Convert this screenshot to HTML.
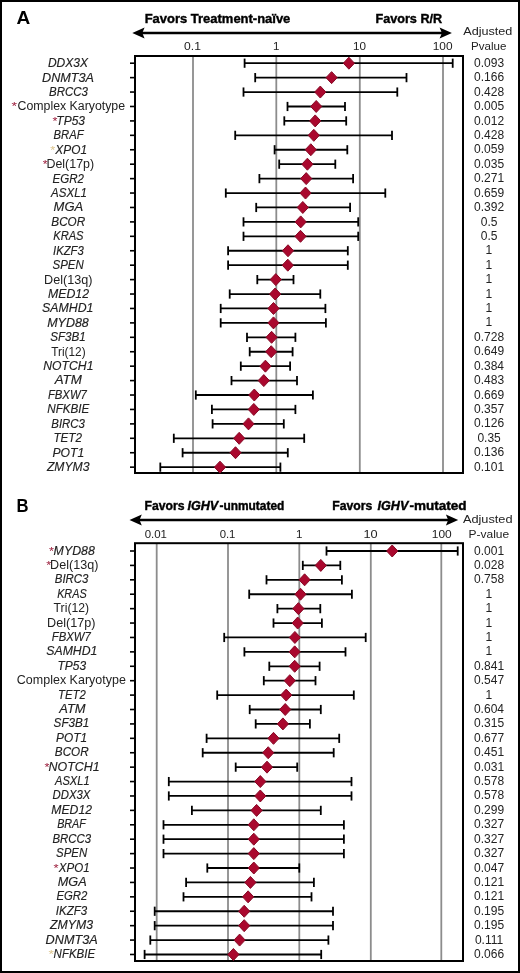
<!DOCTYPE html>
<html><head><meta charset="utf-8"><style>
html,body{margin:0;padding:0;background:#fff;}
svg{display:block;font-family:"Liberation Sans",sans-serif;will-change:transform;}
</style></head><body>
<svg width="520" height="973" viewBox="0 0 520 973">
<rect x="0" y="0" width="520" height="973" fill="#fff"/>
<rect x="1" y="1" width="518" height="971" fill="none" stroke="#000" stroke-width="2"/>
<line x1="193" y1="56" x2="193" y2="473" stroke="#8c8c8c" stroke-width="1.8"/>
<line x1="276.3" y1="56" x2="276.3" y2="473" stroke="#8c8c8c" stroke-width="1.8"/>
<line x1="359.8" y1="56" x2="359.8" y2="473" stroke="#8c8c8c" stroke-width="1.8"/>
<line x1="443" y1="56" x2="443" y2="473" stroke="#8c8c8c" stroke-width="1.8"/>
<rect x="135" y="56" width="328" height="417" fill="none" stroke="#000" stroke-width="2"/>
<line x1="130" y1="63.2" x2="135" y2="63.2" stroke="#000" stroke-width="1.6"/>
<line x1="244.6" y1="63.2" x2="452.7" y2="63.2" stroke="#000" stroke-width="1.8"/>
<line x1="244.6" y1="58.6" x2="244.6" y2="67.8" stroke="#000" stroke-width="1.8"/>
<line x1="452.7" y1="58.6" x2="452.7" y2="67.8" stroke="#000" stroke-width="1.8"/>
<path d="M343.3 63.2L348.9 57.2L354.5 63.2L348.9 69.2Z" fill="#aa082e" stroke="#860a26" stroke-width="1"/>
<line x1="130" y1="77.63" x2="135" y2="77.63" stroke="#000" stroke-width="1.6"/>
<line x1="255.2" y1="77.63" x2="406.5" y2="77.63" stroke="#000" stroke-width="1.8"/>
<line x1="255.2" y1="73.03" x2="255.2" y2="82.23" stroke="#000" stroke-width="1.8"/>
<line x1="406.5" y1="73.03" x2="406.5" y2="82.23" stroke="#000" stroke-width="1.8"/>
<path d="M326 77.63L331.6 71.63L337.2 77.63L331.6 83.63Z" fill="#aa082e" stroke="#860a26" stroke-width="1"/>
<line x1="130" y1="92.05" x2="135" y2="92.05" stroke="#000" stroke-width="1.6"/>
<line x1="243.5" y1="92.05" x2="397.3" y2="92.05" stroke="#000" stroke-width="1.8"/>
<line x1="243.5" y1="87.45" x2="243.5" y2="96.65" stroke="#000" stroke-width="1.8"/>
<line x1="397.3" y1="87.45" x2="397.3" y2="96.65" stroke="#000" stroke-width="1.8"/>
<path d="M314.7 92.05L320.3 86.05L325.9 92.05L320.3 98.05Z" fill="#aa082e" stroke="#860a26" stroke-width="1"/>
<line x1="130" y1="106.48" x2="135" y2="106.48" stroke="#000" stroke-width="1.6"/>
<line x1="287.5" y1="106.48" x2="345" y2="106.48" stroke="#000" stroke-width="1.8"/>
<line x1="287.5" y1="101.88" x2="287.5" y2="111.08" stroke="#000" stroke-width="1.8"/>
<line x1="345" y1="101.88" x2="345" y2="111.08" stroke="#000" stroke-width="1.8"/>
<path d="M310.6 106.48L316.2 100.48L321.8 106.48L316.2 112.48Z" fill="#aa082e" stroke="#860a26" stroke-width="1"/>
<line x1="130" y1="120.91" x2="135" y2="120.91" stroke="#000" stroke-width="1.6"/>
<line x1="284.3" y1="120.91" x2="346.2" y2="120.91" stroke="#000" stroke-width="1.8"/>
<line x1="284.3" y1="116.31" x2="284.3" y2="125.51" stroke="#000" stroke-width="1.8"/>
<line x1="346.2" y1="116.31" x2="346.2" y2="125.51" stroke="#000" stroke-width="1.8"/>
<path d="M309.6 120.91L315.2 114.91L320.8 120.91L315.2 126.91Z" fill="#aa082e" stroke="#860a26" stroke-width="1"/>
<line x1="130" y1="135.33" x2="135" y2="135.33" stroke="#000" stroke-width="1.6"/>
<line x1="235.2" y1="135.33" x2="392" y2="135.33" stroke="#000" stroke-width="1.8"/>
<line x1="235.2" y1="130.73" x2="235.2" y2="139.93" stroke="#000" stroke-width="1.8"/>
<line x1="392" y1="130.73" x2="392" y2="139.93" stroke="#000" stroke-width="1.8"/>
<path d="M308.2 135.33L313.8 129.33L319.4 135.33L313.8 141.33Z" fill="#aa082e" stroke="#860a26" stroke-width="1"/>
<line x1="130" y1="149.76" x2="135" y2="149.76" stroke="#000" stroke-width="1.6"/>
<line x1="274.6" y1="149.76" x2="347.3" y2="149.76" stroke="#000" stroke-width="1.8"/>
<line x1="274.6" y1="145.16" x2="274.6" y2="154.36" stroke="#000" stroke-width="1.8"/>
<line x1="347.3" y1="145.16" x2="347.3" y2="154.36" stroke="#000" stroke-width="1.8"/>
<path d="M305.2 149.76L310.8 143.76L316.4 149.76L310.8 155.76Z" fill="#aa082e" stroke="#860a26" stroke-width="1"/>
<line x1="130" y1="164.19" x2="135" y2="164.19" stroke="#000" stroke-width="1.6"/>
<line x1="279.2" y1="164.19" x2="335.3" y2="164.19" stroke="#000" stroke-width="1.8"/>
<line x1="279.2" y1="159.59" x2="279.2" y2="168.79" stroke="#000" stroke-width="1.8"/>
<line x1="335.3" y1="159.59" x2="335.3" y2="168.79" stroke="#000" stroke-width="1.8"/>
<path d="M301.8 164.19L307.4 158.19L313 164.19L307.4 170.19Z" fill="#aa082e" stroke="#860a26" stroke-width="1"/>
<line x1="130" y1="178.62" x2="135" y2="178.62" stroke="#000" stroke-width="1.6"/>
<line x1="259.4" y1="178.62" x2="353.1" y2="178.62" stroke="#000" stroke-width="1.8"/>
<line x1="259.4" y1="174.02" x2="259.4" y2="183.22" stroke="#000" stroke-width="1.8"/>
<line x1="353.1" y1="174.02" x2="353.1" y2="183.22" stroke="#000" stroke-width="1.8"/>
<path d="M300.6 178.62L306.2 172.62L311.8 178.62L306.2 184.62Z" fill="#aa082e" stroke="#860a26" stroke-width="1"/>
<line x1="130" y1="193.04" x2="135" y2="193.04" stroke="#000" stroke-width="1.6"/>
<line x1="225.8" y1="193.04" x2="385.3" y2="193.04" stroke="#000" stroke-width="1.8"/>
<line x1="225.8" y1="188.44" x2="225.8" y2="197.64" stroke="#000" stroke-width="1.8"/>
<line x1="385.3" y1="188.44" x2="385.3" y2="197.64" stroke="#000" stroke-width="1.8"/>
<path d="M299.9 193.04L305.5 187.04L311.1 193.04L305.5 199.04Z" fill="#aa082e" stroke="#860a26" stroke-width="1"/>
<line x1="130" y1="207.47" x2="135" y2="207.47" stroke="#000" stroke-width="1.6"/>
<line x1="256.2" y1="207.47" x2="350.1" y2="207.47" stroke="#000" stroke-width="1.8"/>
<line x1="256.2" y1="202.87" x2="256.2" y2="212.07" stroke="#000" stroke-width="1.8"/>
<line x1="350.1" y1="202.87" x2="350.1" y2="212.07" stroke="#000" stroke-width="1.8"/>
<path d="M297.2 207.47L302.8 201.47L308.4 207.47L302.8 213.47Z" fill="#aa082e" stroke="#860a26" stroke-width="1"/>
<line x1="130" y1="221.9" x2="135" y2="221.9" stroke="#000" stroke-width="1.6"/>
<line x1="243.5" y1="221.9" x2="358.2" y2="221.9" stroke="#000" stroke-width="1.8"/>
<line x1="243.5" y1="217.3" x2="243.5" y2="226.5" stroke="#000" stroke-width="1.8"/>
<line x1="358.2" y1="217.3" x2="358.2" y2="226.5" stroke="#000" stroke-width="1.8"/>
<path d="M295.1 221.9L300.7 215.9L306.3 221.9L300.7 227.9Z" fill="#aa082e" stroke="#860a26" stroke-width="1"/>
<line x1="130" y1="236.32" x2="135" y2="236.32" stroke="#000" stroke-width="1.6"/>
<line x1="243.5" y1="236.32" x2="358.2" y2="236.32" stroke="#000" stroke-width="1.8"/>
<line x1="243.5" y1="231.72" x2="243.5" y2="240.92" stroke="#000" stroke-width="1.8"/>
<line x1="358.2" y1="231.72" x2="358.2" y2="240.92" stroke="#000" stroke-width="1.8"/>
<path d="M294.9 236.32L300.5 230.32L306.1 236.32L300.5 242.32Z" fill="#aa082e" stroke="#860a26" stroke-width="1"/>
<line x1="130" y1="250.75" x2="135" y2="250.75" stroke="#000" stroke-width="1.6"/>
<line x1="228.1" y1="250.75" x2="347.8" y2="250.75" stroke="#000" stroke-width="1.8"/>
<line x1="228.1" y1="246.15" x2="228.1" y2="255.35" stroke="#000" stroke-width="1.8"/>
<line x1="347.8" y1="246.15" x2="347.8" y2="255.35" stroke="#000" stroke-width="1.8"/>
<path d="M282.4 250.75L288 244.75L293.6 250.75L288 256.75Z" fill="#aa082e" stroke="#860a26" stroke-width="1"/>
<line x1="130" y1="265.18" x2="135" y2="265.18" stroke="#000" stroke-width="1.6"/>
<line x1="228.1" y1="265.18" x2="347.8" y2="265.18" stroke="#000" stroke-width="1.8"/>
<line x1="228.1" y1="260.58" x2="228.1" y2="269.78" stroke="#000" stroke-width="1.8"/>
<line x1="347.8" y1="260.58" x2="347.8" y2="269.78" stroke="#000" stroke-width="1.8"/>
<path d="M282.2 265.18L287.8 259.18L293.4 265.18L287.8 271.18Z" fill="#aa082e" stroke="#860a26" stroke-width="1"/>
<line x1="130" y1="279.61" x2="135" y2="279.61" stroke="#000" stroke-width="1.6"/>
<line x1="257.3" y1="279.61" x2="293.5" y2="279.61" stroke="#000" stroke-width="1.8"/>
<line x1="257.3" y1="275" x2="257.3" y2="284.21" stroke="#000" stroke-width="1.8"/>
<line x1="293.5" y1="275" x2="293.5" y2="284.21" stroke="#000" stroke-width="1.8"/>
<path d="M270.2 279.61L275.8 273.61L281.4 279.61L275.8 285.61Z" fill="#aa082e" stroke="#860a26" stroke-width="1"/>
<line x1="130" y1="294.03" x2="135" y2="294.03" stroke="#000" stroke-width="1.6"/>
<line x1="229.7" y1="294.03" x2="320.3" y2="294.03" stroke="#000" stroke-width="1.8"/>
<line x1="229.7" y1="289.43" x2="229.7" y2="298.63" stroke="#000" stroke-width="1.8"/>
<line x1="320.3" y1="289.43" x2="320.3" y2="298.63" stroke="#000" stroke-width="1.8"/>
<path d="M269.5 294.03L275.1 288.03L280.7 294.03L275.1 300.03Z" fill="#aa082e" stroke="#860a26" stroke-width="1"/>
<line x1="130" y1="308.46" x2="135" y2="308.46" stroke="#000" stroke-width="1.6"/>
<line x1="220.7" y1="308.46" x2="325.4" y2="308.46" stroke="#000" stroke-width="1.8"/>
<line x1="220.7" y1="303.86" x2="220.7" y2="313.06" stroke="#000" stroke-width="1.8"/>
<line x1="325.4" y1="303.86" x2="325.4" y2="313.06" stroke="#000" stroke-width="1.8"/>
<path d="M267.9 308.46L273.5 302.46L279.1 308.46L273.5 314.46Z" fill="#aa082e" stroke="#860a26" stroke-width="1"/>
<line x1="130" y1="322.89" x2="135" y2="322.89" stroke="#000" stroke-width="1.6"/>
<line x1="220.7" y1="322.89" x2="325.9" y2="322.89" stroke="#000" stroke-width="1.8"/>
<line x1="220.7" y1="318.29" x2="220.7" y2="327.49" stroke="#000" stroke-width="1.8"/>
<line x1="325.9" y1="318.29" x2="325.9" y2="327.49" stroke="#000" stroke-width="1.8"/>
<path d="M267.9 322.89L273.5 316.89L279.1 322.89L273.5 328.89Z" fill="#aa082e" stroke="#860a26" stroke-width="1"/>
<line x1="130" y1="337.31" x2="135" y2="337.31" stroke="#000" stroke-width="1.6"/>
<line x1="247" y1="337.31" x2="295.4" y2="337.31" stroke="#000" stroke-width="1.8"/>
<line x1="247" y1="332.71" x2="247" y2="341.91" stroke="#000" stroke-width="1.8"/>
<line x1="295.4" y1="332.71" x2="295.4" y2="341.91" stroke="#000" stroke-width="1.8"/>
<path d="M266 337.31L271.6 331.31L277.2 337.31L271.6 343.31Z" fill="#aa082e" stroke="#860a26" stroke-width="1"/>
<line x1="130" y1="351.74" x2="135" y2="351.74" stroke="#000" stroke-width="1.6"/>
<line x1="249.7" y1="351.74" x2="292.6" y2="351.74" stroke="#000" stroke-width="1.8"/>
<line x1="249.7" y1="347.14" x2="249.7" y2="356.34" stroke="#000" stroke-width="1.8"/>
<line x1="292.6" y1="347.14" x2="292.6" y2="356.34" stroke="#000" stroke-width="1.8"/>
<path d="M265.6 351.74L271.2 345.74L276.8 351.74L271.2 357.74Z" fill="#aa082e" stroke="#860a26" stroke-width="1"/>
<line x1="130" y1="366.17" x2="135" y2="366.17" stroke="#000" stroke-width="1.6"/>
<line x1="240.8" y1="366.17" x2="290.1" y2="366.17" stroke="#000" stroke-width="1.8"/>
<line x1="240.8" y1="361.57" x2="240.8" y2="370.77" stroke="#000" stroke-width="1.8"/>
<line x1="290.1" y1="361.57" x2="290.1" y2="370.77" stroke="#000" stroke-width="1.8"/>
<path d="M259.8 366.17L265.4 360.17L271 366.17L265.4 372.17Z" fill="#aa082e" stroke="#860a26" stroke-width="1"/>
<line x1="130" y1="380.59" x2="135" y2="380.59" stroke="#000" stroke-width="1.6"/>
<line x1="231.5" y1="380.59" x2="297" y2="380.59" stroke="#000" stroke-width="1.8"/>
<line x1="231.5" y1="375.99" x2="231.5" y2="385.19" stroke="#000" stroke-width="1.8"/>
<line x1="297" y1="375.99" x2="297" y2="385.19" stroke="#000" stroke-width="1.8"/>
<path d="M258.2 380.59L263.8 374.59L269.4 380.59L263.8 386.59Z" fill="#aa082e" stroke="#860a26" stroke-width="1"/>
<line x1="130" y1="395.02" x2="135" y2="395.02" stroke="#000" stroke-width="1.6"/>
<line x1="195.8" y1="395.02" x2="312.9" y2="395.02" stroke="#000" stroke-width="1.8"/>
<line x1="195.8" y1="390.42" x2="195.8" y2="399.62" stroke="#000" stroke-width="1.8"/>
<line x1="312.9" y1="390.42" x2="312.9" y2="399.62" stroke="#000" stroke-width="1.8"/>
<path d="M248.7 395.02L254.3 389.02L259.9 395.02L254.3 401.02Z" fill="#aa082e" stroke="#860a26" stroke-width="1"/>
<line x1="130" y1="409.45" x2="135" y2="409.45" stroke="#000" stroke-width="1.6"/>
<line x1="211.9" y1="409.45" x2="295.4" y2="409.45" stroke="#000" stroke-width="1.8"/>
<line x1="211.9" y1="404.85" x2="211.9" y2="414.05" stroke="#000" stroke-width="1.8"/>
<line x1="295.4" y1="404.85" x2="295.4" y2="414.05" stroke="#000" stroke-width="1.8"/>
<path d="M248.2 409.45L253.8 403.45L259.4 409.45L253.8 415.45Z" fill="#aa082e" stroke="#860a26" stroke-width="1"/>
<line x1="130" y1="423.88" x2="135" y2="423.88" stroke="#000" stroke-width="1.6"/>
<line x1="212.6" y1="423.88" x2="283.8" y2="423.88" stroke="#000" stroke-width="1.8"/>
<line x1="212.6" y1="419.27" x2="212.6" y2="428.48" stroke="#000" stroke-width="1.8"/>
<line x1="283.8" y1="419.27" x2="283.8" y2="428.48" stroke="#000" stroke-width="1.8"/>
<path d="M242.9 423.88L248.5 417.88L254.1 423.88L248.5 429.88Z" fill="#aa082e" stroke="#860a26" stroke-width="1"/>
<line x1="130" y1="438.3" x2="135" y2="438.3" stroke="#000" stroke-width="1.6"/>
<line x1="173.8" y1="438.3" x2="304.2" y2="438.3" stroke="#000" stroke-width="1.8"/>
<line x1="173.8" y1="433.7" x2="173.8" y2="442.9" stroke="#000" stroke-width="1.8"/>
<line x1="304.2" y1="433.7" x2="304.2" y2="442.9" stroke="#000" stroke-width="1.8"/>
<path d="M233.6 438.3L239.2 432.3L244.8 438.3L239.2 444.3Z" fill="#aa082e" stroke="#860a26" stroke-width="1"/>
<line x1="130" y1="452.73" x2="135" y2="452.73" stroke="#000" stroke-width="1.6"/>
<line x1="182.6" y1="452.73" x2="287.8" y2="452.73" stroke="#000" stroke-width="1.8"/>
<line x1="182.6" y1="448.13" x2="182.6" y2="457.33" stroke="#000" stroke-width="1.8"/>
<line x1="287.8" y1="448.13" x2="287.8" y2="457.33" stroke="#000" stroke-width="1.8"/>
<path d="M229.9 452.73L235.5 446.73L241.1 452.73L235.5 458.73Z" fill="#aa082e" stroke="#860a26" stroke-width="1"/>
<line x1="130" y1="467.16" x2="135" y2="467.16" stroke="#000" stroke-width="1.6"/>
<line x1="160.3" y1="467.16" x2="280.4" y2="467.16" stroke="#000" stroke-width="1.8"/>
<line x1="160.3" y1="462.56" x2="160.3" y2="471.76" stroke="#000" stroke-width="1.8"/>
<line x1="280.4" y1="462.56" x2="280.4" y2="471.76" stroke="#000" stroke-width="1.8"/>
<path d="M214.4 467.16L220 461.16L225.6 467.16L220 473.16Z" fill="#aa082e" stroke="#860a26" stroke-width="1"/>
<line x1="140.3" y1="33" x2="443.9" y2="33" stroke="#000" stroke-width="2.3"/>
<path d="M132.3 33L144.6 27.6L142.3 33L144.6 38.4Z" fill="#000"/>
<path d="M451.9 33L439.6 27.6L441.9 33L439.6 38.4Z" fill="#000"/>
<line x1="156.7" y1="543.2" x2="156.7" y2="961" stroke="#8c8c8c" stroke-width="1.8"/>
<line x1="228" y1="543.2" x2="228" y2="961" stroke="#8c8c8c" stroke-width="1.8"/>
<line x1="299.3" y1="543.2" x2="299.3" y2="961" stroke="#8c8c8c" stroke-width="1.8"/>
<line x1="370.8" y1="543.2" x2="370.8" y2="961" stroke="#8c8c8c" stroke-width="1.8"/>
<line x1="441.3" y1="543.2" x2="441.3" y2="961" stroke="#8c8c8c" stroke-width="1.8"/>
<rect x="135" y="543.2" width="328" height="417.8" fill="none" stroke="#000" stroke-width="2"/>
<line x1="130" y1="551" x2="135" y2="551" stroke="#000" stroke-width="1.6"/>
<line x1="326.5" y1="551" x2="457.7" y2="551" stroke="#000" stroke-width="1.8"/>
<line x1="326.5" y1="546.4" x2="326.5" y2="555.6" stroke="#000" stroke-width="1.8"/>
<line x1="457.7" y1="546.4" x2="457.7" y2="555.6" stroke="#000" stroke-width="1.8"/>
<path d="M386.6 551L392.2 545L397.8 551L392.2 557Z" fill="#aa082e" stroke="#860a26" stroke-width="1"/>
<line x1="130" y1="565.41" x2="135" y2="565.41" stroke="#000" stroke-width="1.6"/>
<line x1="302.8" y1="565.41" x2="340.3" y2="565.41" stroke="#000" stroke-width="1.8"/>
<line x1="302.8" y1="560.81" x2="302.8" y2="570.01" stroke="#000" stroke-width="1.8"/>
<line x1="340.3" y1="560.81" x2="340.3" y2="570.01" stroke="#000" stroke-width="1.8"/>
<path d="M315.2 565.41L320.8 559.41L326.4 565.41L320.8 571.41Z" fill="#aa082e" stroke="#860a26" stroke-width="1"/>
<line x1="130" y1="579.82" x2="135" y2="579.82" stroke="#000" stroke-width="1.6"/>
<line x1="266.5" y1="579.82" x2="341.9" y2="579.82" stroke="#000" stroke-width="1.8"/>
<line x1="266.5" y1="575.22" x2="266.5" y2="584.42" stroke="#000" stroke-width="1.8"/>
<line x1="341.9" y1="575.22" x2="341.9" y2="584.42" stroke="#000" stroke-width="1.8"/>
<path d="M299 579.82L304.6 573.82L310.2 579.82L304.6 585.82Z" fill="#aa082e" stroke="#860a26" stroke-width="1"/>
<line x1="130" y1="594.23" x2="135" y2="594.23" stroke="#000" stroke-width="1.6"/>
<line x1="249.2" y1="594.23" x2="351.9" y2="594.23" stroke="#000" stroke-width="1.8"/>
<line x1="249.2" y1="589.63" x2="249.2" y2="598.83" stroke="#000" stroke-width="1.8"/>
<line x1="351.9" y1="589.63" x2="351.9" y2="598.83" stroke="#000" stroke-width="1.8"/>
<path d="M294.9 594.23L300.5 588.23L306.1 594.23L300.5 600.23Z" fill="#aa082e" stroke="#860a26" stroke-width="1"/>
<line x1="130" y1="608.64" x2="135" y2="608.64" stroke="#000" stroke-width="1.6"/>
<line x1="277.4" y1="608.64" x2="320.3" y2="608.64" stroke="#000" stroke-width="1.8"/>
<line x1="277.4" y1="604.04" x2="277.4" y2="613.24" stroke="#000" stroke-width="1.8"/>
<line x1="320.3" y1="604.04" x2="320.3" y2="613.24" stroke="#000" stroke-width="1.8"/>
<path d="M292.8 608.64L298.4 602.64L304 608.64L298.4 614.64Z" fill="#aa082e" stroke="#860a26" stroke-width="1"/>
<line x1="130" y1="623.05" x2="135" y2="623.05" stroke="#000" stroke-width="1.6"/>
<line x1="273.5" y1="623.05" x2="321.9" y2="623.05" stroke="#000" stroke-width="1.8"/>
<line x1="273.5" y1="618.45" x2="273.5" y2="627.65" stroke="#000" stroke-width="1.8"/>
<line x1="321.9" y1="618.45" x2="321.9" y2="627.65" stroke="#000" stroke-width="1.8"/>
<path d="M292.1 623.05L297.7 617.05L303.3 623.05L297.7 629.05Z" fill="#aa082e" stroke="#860a26" stroke-width="1"/>
<line x1="130" y1="637.46" x2="135" y2="637.46" stroke="#000" stroke-width="1.6"/>
<line x1="224.2" y1="637.46" x2="365.7" y2="637.46" stroke="#000" stroke-width="1.8"/>
<line x1="224.2" y1="632.86" x2="224.2" y2="642.06" stroke="#000" stroke-width="1.8"/>
<line x1="365.7" y1="632.86" x2="365.7" y2="642.06" stroke="#000" stroke-width="1.8"/>
<path d="M289.3 637.46L294.9 631.46L300.5 637.46L294.9 643.46Z" fill="#aa082e" stroke="#860a26" stroke-width="1"/>
<line x1="130" y1="651.87" x2="135" y2="651.87" stroke="#000" stroke-width="1.6"/>
<line x1="244.4" y1="651.87" x2="345.5" y2="651.87" stroke="#000" stroke-width="1.8"/>
<line x1="244.4" y1="647.27" x2="244.4" y2="656.47" stroke="#000" stroke-width="1.8"/>
<line x1="345.5" y1="647.27" x2="345.5" y2="656.47" stroke="#000" stroke-width="1.8"/>
<path d="M289.1 651.87L294.7 645.87L300.3 651.87L294.7 657.87Z" fill="#aa082e" stroke="#860a26" stroke-width="1"/>
<line x1="130" y1="666.28" x2="135" y2="666.28" stroke="#000" stroke-width="1.6"/>
<line x1="269.3" y1="666.28" x2="319.6" y2="666.28" stroke="#000" stroke-width="1.8"/>
<line x1="269.3" y1="661.68" x2="269.3" y2="670.88" stroke="#000" stroke-width="1.8"/>
<line x1="319.6" y1="661.68" x2="319.6" y2="670.88" stroke="#000" stroke-width="1.8"/>
<path d="M289.1 666.28L294.7 660.28L300.3 666.28L294.7 672.28Z" fill="#aa082e" stroke="#860a26" stroke-width="1"/>
<line x1="130" y1="680.69" x2="135" y2="680.69" stroke="#000" stroke-width="1.6"/>
<line x1="263.8" y1="680.69" x2="315.5" y2="680.69" stroke="#000" stroke-width="1.8"/>
<line x1="263.8" y1="676.09" x2="263.8" y2="685.29" stroke="#000" stroke-width="1.8"/>
<line x1="315.5" y1="676.09" x2="315.5" y2="685.29" stroke="#000" stroke-width="1.8"/>
<path d="M284.2 680.69L289.8 674.69L295.4 680.69L289.8 686.69Z" fill="#aa082e" stroke="#860a26" stroke-width="1"/>
<line x1="130" y1="695.1" x2="135" y2="695.1" stroke="#000" stroke-width="1.6"/>
<line x1="217.2" y1="695.1" x2="353.8" y2="695.1" stroke="#000" stroke-width="1.8"/>
<line x1="217.2" y1="690.5" x2="217.2" y2="699.7" stroke="#000" stroke-width="1.8"/>
<line x1="353.8" y1="690.5" x2="353.8" y2="699.7" stroke="#000" stroke-width="1.8"/>
<path d="M280.6 695.1L286.2 689.1L291.8 695.1L286.2 701.1Z" fill="#aa082e" stroke="#860a26" stroke-width="1"/>
<line x1="130" y1="709.51" x2="135" y2="709.51" stroke="#000" stroke-width="1.6"/>
<line x1="249.7" y1="709.51" x2="320.8" y2="709.51" stroke="#000" stroke-width="1.8"/>
<line x1="249.7" y1="704.91" x2="249.7" y2="714.11" stroke="#000" stroke-width="1.8"/>
<line x1="320.8" y1="704.91" x2="320.8" y2="714.11" stroke="#000" stroke-width="1.8"/>
<path d="M279.6 709.51L285.2 703.51L290.8 709.51L285.2 715.51Z" fill="#aa082e" stroke="#860a26" stroke-width="1"/>
<line x1="130" y1="723.92" x2="135" y2="723.92" stroke="#000" stroke-width="1.6"/>
<line x1="255.7" y1="723.92" x2="309.9" y2="723.92" stroke="#000" stroke-width="1.8"/>
<line x1="255.7" y1="719.32" x2="255.7" y2="728.52" stroke="#000" stroke-width="1.8"/>
<line x1="309.9" y1="719.32" x2="309.9" y2="728.52" stroke="#000" stroke-width="1.8"/>
<path d="M277.3 723.92L282.9 717.92L288.5 723.92L282.9 729.92Z" fill="#aa082e" stroke="#860a26" stroke-width="1"/>
<line x1="130" y1="738.33" x2="135" y2="738.33" stroke="#000" stroke-width="1.6"/>
<line x1="206.6" y1="738.33" x2="339.2" y2="738.33" stroke="#000" stroke-width="1.8"/>
<line x1="206.6" y1="733.73" x2="206.6" y2="742.93" stroke="#000" stroke-width="1.8"/>
<line x1="339.2" y1="733.73" x2="339.2" y2="742.93" stroke="#000" stroke-width="1.8"/>
<path d="M267.9 738.33L273.5 732.33L279.1 738.33L273.5 744.33Z" fill="#aa082e" stroke="#860a26" stroke-width="1"/>
<line x1="130" y1="752.74" x2="135" y2="752.74" stroke="#000" stroke-width="1.6"/>
<line x1="202.7" y1="752.74" x2="333.7" y2="752.74" stroke="#000" stroke-width="1.8"/>
<line x1="202.7" y1="748.14" x2="202.7" y2="757.34" stroke="#000" stroke-width="1.8"/>
<line x1="333.7" y1="748.14" x2="333.7" y2="757.34" stroke="#000" stroke-width="1.8"/>
<path d="M262.6 752.74L268.2 746.74L273.8 752.74L268.2 758.74Z" fill="#aa082e" stroke="#860a26" stroke-width="1"/>
<line x1="130" y1="767.15" x2="135" y2="767.15" stroke="#000" stroke-width="1.6"/>
<line x1="235.7" y1="767.15" x2="297.2" y2="767.15" stroke="#000" stroke-width="1.8"/>
<line x1="235.7" y1="762.55" x2="235.7" y2="771.75" stroke="#000" stroke-width="1.8"/>
<line x1="297.2" y1="762.55" x2="297.2" y2="771.75" stroke="#000" stroke-width="1.8"/>
<path d="M261.4 767.15L267 761.15L272.6 767.15L267 773.15Z" fill="#aa082e" stroke="#860a26" stroke-width="1"/>
<line x1="130" y1="781.56" x2="135" y2="781.56" stroke="#000" stroke-width="1.6"/>
<line x1="168.8" y1="781.56" x2="351.5" y2="781.56" stroke="#000" stroke-width="1.8"/>
<line x1="168.8" y1="776.96" x2="168.8" y2="786.16" stroke="#000" stroke-width="1.8"/>
<line x1="351.5" y1="776.96" x2="351.5" y2="786.16" stroke="#000" stroke-width="1.8"/>
<path d="M254.7 781.56L260.3 775.56L265.9 781.56L260.3 787.56Z" fill="#aa082e" stroke="#860a26" stroke-width="1"/>
<line x1="130" y1="795.97" x2="135" y2="795.97" stroke="#000" stroke-width="1.6"/>
<line x1="168.8" y1="795.97" x2="351.5" y2="795.97" stroke="#000" stroke-width="1.8"/>
<line x1="168.8" y1="791.37" x2="168.8" y2="800.57" stroke="#000" stroke-width="1.8"/>
<line x1="351.5" y1="791.37" x2="351.5" y2="800.57" stroke="#000" stroke-width="1.8"/>
<path d="M254.7 795.97L260.3 789.97L265.9 795.97L260.3 801.97Z" fill="#aa082e" stroke="#860a26" stroke-width="1"/>
<line x1="130" y1="810.38" x2="135" y2="810.38" stroke="#000" stroke-width="1.6"/>
<line x1="191.9" y1="810.38" x2="320.8" y2="810.38" stroke="#000" stroke-width="1.8"/>
<line x1="191.9" y1="805.78" x2="191.9" y2="814.98" stroke="#000" stroke-width="1.8"/>
<line x1="320.8" y1="805.78" x2="320.8" y2="814.98" stroke="#000" stroke-width="1.8"/>
<path d="M251 810.38L256.6 804.38L262.2 810.38L256.6 816.38Z" fill="#aa082e" stroke="#860a26" stroke-width="1"/>
<line x1="130" y1="824.79" x2="135" y2="824.79" stroke="#000" stroke-width="1.6"/>
<line x1="163.5" y1="824.79" x2="343.9" y2="824.79" stroke="#000" stroke-width="1.8"/>
<line x1="163.5" y1="820.19" x2="163.5" y2="829.39" stroke="#000" stroke-width="1.8"/>
<line x1="343.9" y1="820.19" x2="343.9" y2="829.39" stroke="#000" stroke-width="1.8"/>
<path d="M248.2 824.79L253.8 818.79L259.4 824.79L253.8 830.79Z" fill="#aa082e" stroke="#860a26" stroke-width="1"/>
<line x1="130" y1="839.2" x2="135" y2="839.2" stroke="#000" stroke-width="1.6"/>
<line x1="163.5" y1="839.2" x2="343.9" y2="839.2" stroke="#000" stroke-width="1.8"/>
<line x1="163.5" y1="834.6" x2="163.5" y2="843.8" stroke="#000" stroke-width="1.8"/>
<line x1="343.9" y1="834.6" x2="343.9" y2="843.8" stroke="#000" stroke-width="1.8"/>
<path d="M248.2 839.2L253.8 833.2L259.4 839.2L253.8 845.2Z" fill="#aa082e" stroke="#860a26" stroke-width="1"/>
<line x1="130" y1="853.61" x2="135" y2="853.61" stroke="#000" stroke-width="1.6"/>
<line x1="163.5" y1="853.61" x2="343.9" y2="853.61" stroke="#000" stroke-width="1.8"/>
<line x1="163.5" y1="849.01" x2="163.5" y2="858.21" stroke="#000" stroke-width="1.8"/>
<line x1="343.9" y1="849.01" x2="343.9" y2="858.21" stroke="#000" stroke-width="1.8"/>
<path d="M248.2 853.61L253.8 847.61L259.4 853.61L253.8 859.61Z" fill="#aa082e" stroke="#860a26" stroke-width="1"/>
<line x1="130" y1="868.02" x2="135" y2="868.02" stroke="#000" stroke-width="1.6"/>
<line x1="207.3" y1="868.02" x2="299.3" y2="868.02" stroke="#000" stroke-width="1.8"/>
<line x1="207.3" y1="863.42" x2="207.3" y2="872.62" stroke="#000" stroke-width="1.8"/>
<line x1="299.3" y1="863.42" x2="299.3" y2="872.62" stroke="#000" stroke-width="1.8"/>
<path d="M248.2 868.02L253.8 862.02L259.4 868.02L253.8 874.02Z" fill="#aa082e" stroke="#860a26" stroke-width="1"/>
<line x1="130" y1="882.43" x2="135" y2="882.43" stroke="#000" stroke-width="1.6"/>
<line x1="186.1" y1="882.43" x2="313.9" y2="882.43" stroke="#000" stroke-width="1.8"/>
<line x1="186.1" y1="877.83" x2="186.1" y2="887.03" stroke="#000" stroke-width="1.8"/>
<line x1="313.9" y1="877.83" x2="313.9" y2="887.03" stroke="#000" stroke-width="1.8"/>
<path d="M244.8 882.43L250.4 876.43L256 882.43L250.4 888.43Z" fill="#aa082e" stroke="#860a26" stroke-width="1"/>
<line x1="130" y1="896.84" x2="135" y2="896.84" stroke="#000" stroke-width="1.6"/>
<line x1="183.5" y1="896.84" x2="311.5" y2="896.84" stroke="#000" stroke-width="1.8"/>
<line x1="183.5" y1="892.24" x2="183.5" y2="901.44" stroke="#000" stroke-width="1.8"/>
<line x1="311.5" y1="892.24" x2="311.5" y2="901.44" stroke="#000" stroke-width="1.8"/>
<path d="M242.5 896.84L248.1 890.84L253.7 896.84L248.1 902.84Z" fill="#aa082e" stroke="#860a26" stroke-width="1"/>
<line x1="130" y1="911.25" x2="135" y2="911.25" stroke="#000" stroke-width="1.6"/>
<line x1="154.7" y1="911.25" x2="333" y2="911.25" stroke="#000" stroke-width="1.8"/>
<line x1="154.7" y1="906.65" x2="154.7" y2="915.85" stroke="#000" stroke-width="1.8"/>
<line x1="333" y1="906.65" x2="333" y2="915.85" stroke="#000" stroke-width="1.8"/>
<path d="M238.6 911.25L244.2 905.25L249.8 911.25L244.2 917.25Z" fill="#aa082e" stroke="#860a26" stroke-width="1"/>
<line x1="130" y1="925.66" x2="135" y2="925.66" stroke="#000" stroke-width="1.6"/>
<line x1="154.7" y1="925.66" x2="333" y2="925.66" stroke="#000" stroke-width="1.8"/>
<line x1="154.7" y1="921.06" x2="154.7" y2="930.26" stroke="#000" stroke-width="1.8"/>
<line x1="333" y1="921.06" x2="333" y2="930.26" stroke="#000" stroke-width="1.8"/>
<path d="M238.6 925.66L244.2 919.66L249.8 925.66L244.2 931.66Z" fill="#aa082e" stroke="#860a26" stroke-width="1"/>
<line x1="130" y1="940.07" x2="135" y2="940.07" stroke="#000" stroke-width="1.6"/>
<line x1="150.3" y1="940.07" x2="328.4" y2="940.07" stroke="#000" stroke-width="1.8"/>
<line x1="150.3" y1="935.47" x2="150.3" y2="944.67" stroke="#000" stroke-width="1.8"/>
<line x1="328.4" y1="935.47" x2="328.4" y2="944.67" stroke="#000" stroke-width="1.8"/>
<path d="M234 940.07L239.6 934.07L245.2 940.07L239.6 946.07Z" fill="#aa082e" stroke="#860a26" stroke-width="1"/>
<line x1="130" y1="954.48" x2="135" y2="954.48" stroke="#000" stroke-width="1.6"/>
<line x1="144.6" y1="954.48" x2="321.2" y2="954.48" stroke="#000" stroke-width="1.8"/>
<line x1="144.6" y1="949.88" x2="144.6" y2="959.08" stroke="#000" stroke-width="1.8"/>
<line x1="321.2" y1="949.88" x2="321.2" y2="959.08" stroke="#000" stroke-width="1.8"/>
<path d="M227.8 954.48L233.4 948.48L239 954.48L233.4 960.48Z" fill="#aa082e" stroke="#860a26" stroke-width="1"/>
<line x1="137.5" y1="520" x2="450.2" y2="520" stroke="#000" stroke-width="2.3"/>
<path d="M129.5 520L141.8 514.6L139.5 520L141.8 525.4Z" fill="#000"/>
<path d="M458.2 520L445.9 514.6L448.2 520L445.9 525.4Z" fill="#000"/>
<text transform="translate(184.12 50.00) scale(1.0462 1)" font-size="11.6" fill="#222">0.1</text>
<text transform="translate(272.95 50.00)" font-size="11.6" fill="#222">1</text>
<text transform="translate(353.07 50.00) scale(1.0093 1)" font-size="11.6" fill="#222">10</text>
<text transform="translate(432.76 50.00) scale(1.0251 1)" font-size="11.6" fill="#222">100</text>
<text transform="translate(47.91 67.10) scale(1.0035 1)" font-size="12" fill="#222" font-style="italic" stroke="#222" stroke-width="0.15">DDX3X</text>
<text transform="translate(474.04 66.80)" font-size="12" fill="#222">0.093</text>
<text transform="translate(42.10 81.53) scale(1.0525 1)" font-size="12" fill="#222" font-style="italic" stroke="#222" stroke-width="0.15">DNMT3A</text>
<text transform="translate(474.04 81.23)" font-size="12" fill="#222">0.166</text>
<text transform="translate(49.02 95.95) scale(0.9565 1)" font-size="12" fill="#222" font-style="italic" stroke="#222" stroke-width="0.15">BRCC3</text>
<text transform="translate(474.04 95.65)" font-size="12" fill="#222">0.428</text>
<text transform="translate(17.52 110.38) scale(1.0283 1)" font-size="12" fill="#222">Complex Karyotype</text>
<text transform="translate(11.58 110.38) scale(1.4191 1)" font-size="10" fill="#9b1b3a">*</text>
<text transform="translate(474.04 110.08)" font-size="12" fill="#222">0.005</text>
<text transform="translate(56.37 124.81) scale(0.9957 1)" font-size="12" fill="#222" font-style="italic" stroke="#222" stroke-width="0.15">TP53</text>
<text transform="translate(52.50 124.81) scale(1.2800 1)" font-size="10" fill="#9b1b3a">*</text>
<text transform="translate(474.04 124.51)" font-size="12" fill="#222">0.012</text>
<text transform="translate(53.62 139.23) scale(0.9371 1)" font-size="12" fill="#222" font-style="italic" stroke="#222" stroke-width="0.15">BRAF</text>
<text transform="translate(474.04 138.93)" font-size="12" fill="#222">0.428</text>
<text transform="translate(55.37 153.66) scale(0.9896 1)" font-size="12" fill="#222" font-style="italic" stroke="#222" stroke-width="0.15">XPO1</text>
<text transform="translate(50.20 153.66) scale(1.2800 1)" font-size="10" fill="#dcc48c">*</text>
<text transform="translate(474.04 153.36)" font-size="12" fill="#222">0.059</text>
<text transform="translate(46.43 168.09) scale(1.0369 1)" font-size="12" fill="#222">Del(17p)</text>
<text transform="translate(42.81 168.09) scale(1.2243 1)" font-size="10" fill="#9b1b3a">*</text>
<text transform="translate(474.04 167.79)" font-size="12" fill="#222">0.035</text>
<text transform="translate(52.52 182.52) scale(0.9636 1)" font-size="12" fill="#222" font-style="italic" stroke="#222" stroke-width="0.15">EGR2</text>
<text transform="translate(474.04 182.22)" font-size="12" fill="#222">0.271</text>
<text transform="translate(51.12 196.94) scale(0.9611 1)" font-size="12" fill="#222" font-style="italic" stroke="#222" stroke-width="0.15">ASXL1</text>
<text transform="translate(474.04 196.64)" font-size="12" fill="#222">0.659</text>
<text transform="translate(53.60 211.37) scale(1.0847 1)" font-size="12" fill="#222" font-style="italic" stroke="#222" stroke-width="0.15">MGA</text>
<text transform="translate(474.04 211.07)" font-size="12" fill="#222">0.392</text>
<text transform="translate(51.32 225.80) scale(0.9780 1)" font-size="12" fill="#222" font-style="italic" stroke="#222" stroke-width="0.15">BCOR</text>
<text transform="translate(480.71 225.50)" font-size="12" fill="#222">0.5</text>
<text transform="translate(53.23 240.22) scale(0.9270 1)" font-size="12" fill="#222" font-style="italic" stroke="#222" stroke-width="0.15">KRAS</text>
<text transform="translate(480.71 239.92)" font-size="12" fill="#222">0.5</text>
<text transform="translate(53.05 254.65) scale(0.9421 1)" font-size="12" fill="#222" font-style="italic" stroke="#222" stroke-width="0.15">IKZF3</text>
<text transform="translate(485.53 254.35)" font-size="12" fill="#222">1</text>
<text transform="translate(52.52 269.08) scale(0.9560 1)" font-size="12" fill="#222" font-style="italic" stroke="#222" stroke-width="0.15">SPEN</text>
<text transform="translate(485.53 268.78)" font-size="12" fill="#222">1</text>
<text transform="translate(44.11 283.50) scale(1.0526 1)" font-size="12" fill="#222">Del(13q)</text>
<text transform="translate(485.53 283.21)" font-size="12" fill="#222">1</text>
<text transform="translate(47.91 297.93) scale(1.0273 1)" font-size="12" fill="#222" font-style="italic" stroke="#222" stroke-width="0.15">MED12</text>
<text transform="translate(485.53 297.63)" font-size="12" fill="#222">1</text>
<text transform="translate(42.11 312.36) scale(1.0273 1)" font-size="12" fill="#222" font-style="italic" stroke="#222" stroke-width="0.15">SAMHD1</text>
<text transform="translate(485.53 312.06)" font-size="12" fill="#222">1</text>
<text transform="translate(47.20 326.79) scale(1.0400 1)" font-size="12" fill="#222" font-style="italic" stroke="#222" stroke-width="0.15">MYD88</text>
<text transform="translate(485.53 326.49)" font-size="12" fill="#222">1</text>
<text transform="translate(50.22 341.21) scale(0.9709 1)" font-size="12" fill="#222" font-style="italic" stroke="#222" stroke-width="0.15">SF3B1</text>
<text transform="translate(474.04 340.91)" font-size="12" fill="#222">0.728</text>
<text transform="translate(51.32 355.64) scale(0.9830 1)" font-size="12" fill="#222">Tri(12)</text>
<text transform="translate(474.04 355.34)" font-size="12" fill="#222">0.649</text>
<text transform="translate(43.31 370.07) scale(1.0168 1)" font-size="12" fill="#222" font-style="italic" stroke="#222" stroke-width="0.15">NOTCH1</text>
<text transform="translate(473.95 369.77)" font-size="12" fill="#222">0.384</text>
<text transform="translate(54.64 384.49) scale(1.1138 1)" font-size="12" fill="#222" font-style="italic" stroke="#222" stroke-width="0.15">ATM</text>
<text transform="translate(474.04 384.19)" font-size="12" fill="#222">0.483</text>
<text transform="translate(47.92 398.92) scale(0.9423 1)" font-size="12" fill="#222" font-style="italic" stroke="#222" stroke-width="0.15">FBXW7</text>
<text transform="translate(474.04 398.62)" font-size="12" fill="#222">0.669</text>
<text transform="translate(47.22 413.35) scale(0.9723 1)" font-size="12" fill="#222" font-style="italic" stroke="#222" stroke-width="0.15">NFKBIE</text>
<text transform="translate(474.04 413.05)" font-size="12" fill="#222">0.357</text>
<text transform="translate(51.32 427.77) scale(0.9508 1)" font-size="12" fill="#222" font-style="italic" stroke="#222" stroke-width="0.15">BIRC3</text>
<text transform="translate(474.04 427.48)" font-size="12" fill="#222">0.126</text>
<text transform="translate(53.38 442.20) scale(0.9792 1)" font-size="12" fill="#222" font-style="italic" stroke="#222" stroke-width="0.15">TET2</text>
<text transform="translate(477.38 441.90)" font-size="12" fill="#222">0.35</text>
<text transform="translate(52.51 456.63) scale(1.0134 1)" font-size="12" fill="#222" font-style="italic" stroke="#222" stroke-width="0.15">POT1</text>
<text transform="translate(474.04 456.33)" font-size="12" fill="#222">0.136</text>
<text transform="translate(46.88 471.06) scale(1.0153 1)" font-size="12" fill="#222" font-style="italic" stroke="#222" stroke-width="0.15">ZMYM3</text>
<text transform="translate(474.04 470.76)" font-size="12" fill="#222">0.101</text>
<text transform="translate(144.69 22.60) scale(0.9841 1)" font-size="13.2" fill="#000" font-weight="bold" stroke="#000" stroke-width="0.4">Favors Treatment-naïve</text>
<text transform="translate(375.41 22.60) scale(0.9590 1)" font-size="13.2" fill="#000" font-weight="bold" stroke="#000" stroke-width="0.4">Favors R/R</text>
<text transform="translate(463.20 34.70) scale(1.0901 1)" font-size="11.6" fill="#222">Adjusted</text>
<text transform="translate(471.10 49.50) scale(0.9973 1)" font-size="11.6" fill="#222">Pvalue</text>
<text transform="translate(16.50 23.75) scale(1.0470 1)" font-size="18.2" fill="#000" font-weight="bold">A</text>
<text transform="translate(144.64 537.80) scale(0.9888 1)" font-size="11.6" fill="#222">0.01</text>
<text transform="translate(219.64 537.80) scale(0.9808 1)" font-size="11.6" fill="#222">0.1</text>
<text transform="translate(295.95 537.80)" font-size="11.6" fill="#222">1</text>
<text transform="translate(363.40 537.80) scale(1.1019 1)" font-size="11.6" fill="#222">10</text>
<text transform="translate(431.75 537.80) scale(1.0305 1)" font-size="11.6" fill="#222">100</text>
<text transform="translate(53.61 554.50) scale(1.0300 1)" font-size="12" fill="#222" font-style="italic" stroke="#222" stroke-width="0.15">MYD88</text>
<text transform="translate(49.00 554.50) scale(1.2800 1)" font-size="10" fill="#9b1b3a">*</text>
<text transform="translate(474.04 554.50)" font-size="12" fill="#222">0.001</text>
<text transform="translate(50.12 568.91) scale(1.0481 1)" font-size="12" fill="#222">Del(13q)</text>
<text transform="translate(46.30 568.91) scale(1.2800 1)" font-size="10" fill="#9b1b3a">*</text>
<text transform="translate(474.04 568.91)" font-size="12" fill="#222">0.028</text>
<text transform="translate(54.82 583.32) scale(0.9508 1)" font-size="12" fill="#222" font-style="italic" stroke="#222" stroke-width="0.15">BIRC3</text>
<text transform="translate(474.04 583.32)" font-size="12" fill="#222">0.758</text>
<text transform="translate(57.13 597.73) scale(0.9054 1)" font-size="12" fill="#222" font-style="italic" stroke="#222" stroke-width="0.15">KRAS</text>
<text transform="translate(485.53 597.73)" font-size="12" fill="#222">1</text>
<text transform="translate(53.61 612.14) scale(1.0182 1)" font-size="12" fill="#222">Tri(12)</text>
<text transform="translate(485.53 612.14)" font-size="12" fill="#222">1</text>
<text transform="translate(47.11 626.55) scale(1.0526 1)" font-size="12" fill="#222">Del(17p)</text>
<text transform="translate(485.53 626.55)" font-size="12" fill="#222">1</text>
<text transform="translate(51.82 640.96) scale(0.9423 1)" font-size="12" fill="#222" font-style="italic" stroke="#222" stroke-width="0.15">FBXW7</text>
<text transform="translate(485.53 640.96)" font-size="12" fill="#222">1</text>
<text transform="translate(46.31 655.37) scale(1.0212 1)" font-size="12" fill="#222" font-style="italic" stroke="#222" stroke-width="0.15">SAMHD1</text>
<text transform="translate(485.53 655.37)" font-size="12" fill="#222">1</text>
<text transform="translate(57.57 669.78) scale(0.9957 1)" font-size="12" fill="#222" font-style="italic" stroke="#222" stroke-width="0.15">TP53</text>
<text transform="translate(474.04 669.78)" font-size="12" fill="#222">0.841</text>
<text transform="translate(16.81 684.19) scale(1.0418 1)" font-size="12" fill="#222">Complex Karyotype</text>
<text transform="translate(474.04 684.19)" font-size="12" fill="#222">0.547</text>
<text transform="translate(58.01 698.60) scale(0.9474 1)" font-size="12" fill="#222" font-style="italic" stroke="#222" stroke-width="0.15">TET2</text>
<text transform="translate(485.53 698.60)" font-size="12" fill="#222">1</text>
<text transform="translate(59.31 713.01) scale(1.0743 1)" font-size="12" fill="#222" font-style="italic" stroke="#222" stroke-width="0.15">ATM</text>
<text transform="translate(473.95 713.01)" font-size="12" fill="#222">0.604</text>
<text transform="translate(53.62 727.42) scale(0.9737 1)" font-size="12" fill="#222" font-style="italic" stroke="#222" stroke-width="0.15">SF3B1</text>
<text transform="translate(474.04 727.42)" font-size="12" fill="#222">0.315</text>
<text transform="translate(56.01 741.83) scale(0.9903 1)" font-size="12" fill="#222" font-style="italic" stroke="#222" stroke-width="0.15">POT1</text>
<text transform="translate(474.04 741.83)" font-size="12" fill="#222">0.677</text>
<text transform="translate(54.82 756.24) scale(0.9780 1)" font-size="12" fill="#222" font-style="italic" stroke="#222" stroke-width="0.15">BCOR</text>
<text transform="translate(474.04 756.24)" font-size="12" fill="#222">0.451</text>
<text transform="translate(48.61 770.65) scale(1.0375 1)" font-size="12" fill="#222" font-style="italic" stroke="#222" stroke-width="0.15">NOTCH1</text>
<text transform="translate(44.40 770.65) scale(1.2800 1)" font-size="10" fill="#9b1b3a">*</text>
<text transform="translate(474.04 770.65)" font-size="12" fill="#222">0.031</text>
<text transform="translate(55.00 785.06) scale(0.9289 1)" font-size="12" fill="#222" font-style="italic" stroke="#222" stroke-width="0.15">ASXL1</text>
<text transform="translate(474.04 785.06)" font-size="12" fill="#222">0.578</text>
<text transform="translate(52.52 799.47) scale(0.9464 1)" font-size="12" fill="#222" font-style="italic" stroke="#222" stroke-width="0.15">DDX3X</text>
<text transform="translate(474.04 799.47)" font-size="12" fill="#222">0.578</text>
<text transform="translate(51.31 813.88) scale(1.0173 1)" font-size="12" fill="#222" font-style="italic" stroke="#222" stroke-width="0.15">MED12</text>
<text transform="translate(474.04 813.88)" font-size="12" fill="#222">0.299</text>
<text transform="translate(57.13 828.29) scale(0.9002 1)" font-size="12" fill="#222" font-style="italic" stroke="#222" stroke-width="0.15">BRAF</text>
<text transform="translate(474.04 828.29)" font-size="12" fill="#222">0.327</text>
<text transform="translate(52.52 842.70) scale(0.9491 1)" font-size="12" fill="#222" font-style="italic" stroke="#222" stroke-width="0.15">BRCC3</text>
<text transform="translate(474.04 842.70)" font-size="12" fill="#222">0.327</text>
<text transform="translate(56.02 857.11) scale(0.9529 1)" font-size="12" fill="#222" font-style="italic" stroke="#222" stroke-width="0.15">SPEN</text>
<text transform="translate(474.04 857.11)" font-size="12" fill="#222">0.327</text>
<text transform="translate(58.86 871.52) scale(0.9642 1)" font-size="12" fill="#222" font-style="italic" stroke="#222" stroke-width="0.15">XPO1</text>
<text transform="translate(53.60 871.52) scale(1.3078 1)" font-size="10" fill="#9b1b3a">*</text>
<text transform="translate(474.04 871.52)" font-size="12" fill="#222">0.047</text>
<text transform="translate(57.80 885.93) scale(1.0585 1)" font-size="12" fill="#222" font-style="italic" stroke="#222" stroke-width="0.15">MGA</text>
<text transform="translate(474.04 885.93)" font-size="12" fill="#222">0.121</text>
<text transform="translate(56.42 900.34) scale(0.9481 1)" font-size="12" fill="#222" font-style="italic" stroke="#222" stroke-width="0.15">EGR2</text>
<text transform="translate(474.04 900.34)" font-size="12" fill="#222">0.121</text>
<text transform="translate(55.84 914.75) scale(0.9607 1)" font-size="12" fill="#222" font-style="italic" stroke="#222" stroke-width="0.15">IKZF3</text>
<text transform="translate(474.04 914.75)" font-size="12" fill="#222">0.195</text>
<text transform="translate(50.08 929.16) scale(1.0224 1)" font-size="12" fill="#222" font-style="italic" stroke="#222" stroke-width="0.15">ZMYM3</text>
<text transform="translate(474.04 929.16)" font-size="12" fill="#222">0.195</text>
<text transform="translate(45.60 943.57) scale(1.0566 1)" font-size="12" fill="#222" font-style="italic" stroke="#222" stroke-width="0.15">DNMT3A</text>
<text transform="translate(474.93 943.57)" font-size="12" fill="#222">0.111</text>
<text transform="translate(53.62 957.98) scale(0.9585 1)" font-size="12" fill="#222" font-style="italic" stroke="#222" stroke-width="0.15">NFKBIE</text>
<text transform="translate(48.58 957.98) scale(1.3913 1)" font-size="10" fill="#dcc48c">*</text>
<text transform="translate(474.04 957.98)" font-size="12" fill="#222">0.066</text>
<text transform="translate(144.44 509.80) scale(1.0096 1)" font-size="12.1" fill="#000" font-weight="bold" stroke="#000" stroke-width="0.4">Favors </text>
<text transform="translate(187.40 509.80) scale(1.0428 1)" font-size="12.1" fill="#000" font-weight="bold" font-style="italic" stroke="#000" stroke-width="0.4">IGHV</text>
<text transform="translate(219.43 509.80) scale(0.9858 1)" font-size="12.1" fill="#000" font-weight="bold" stroke="#000" stroke-width="0.4">-unmutated</text>
<text transform="translate(332.24 509.80) scale(1.0096 1)" font-size="12.1" fill="#000" font-weight="bold" stroke="#000" stroke-width="0.4">Favors </text>
<text transform="translate(377.50 509.80) scale(1.0428 1)" font-size="12.1" fill="#000" font-weight="bold" font-style="italic" stroke="#000" stroke-width="0.4">IGHV</text>
<text transform="translate(409.48 509.80) scale(1.1174 1)" font-size="12.1" fill="#000" font-weight="bold" stroke="#000" stroke-width="0.4">-mutated</text>
<text transform="translate(462.90 523.30) scale(1.1013 1)" font-size="11.6" fill="#222">Adjusted</text>
<text transform="translate(468.46 538.00) scale(1.0354 1)" font-size="11.6" fill="#222">P-value</text>
<text transform="translate(16.56 512.10) scale(0.9143 1)" font-size="18.2" fill="#000" font-weight="bold">B</text>
</svg>
</body></html>
